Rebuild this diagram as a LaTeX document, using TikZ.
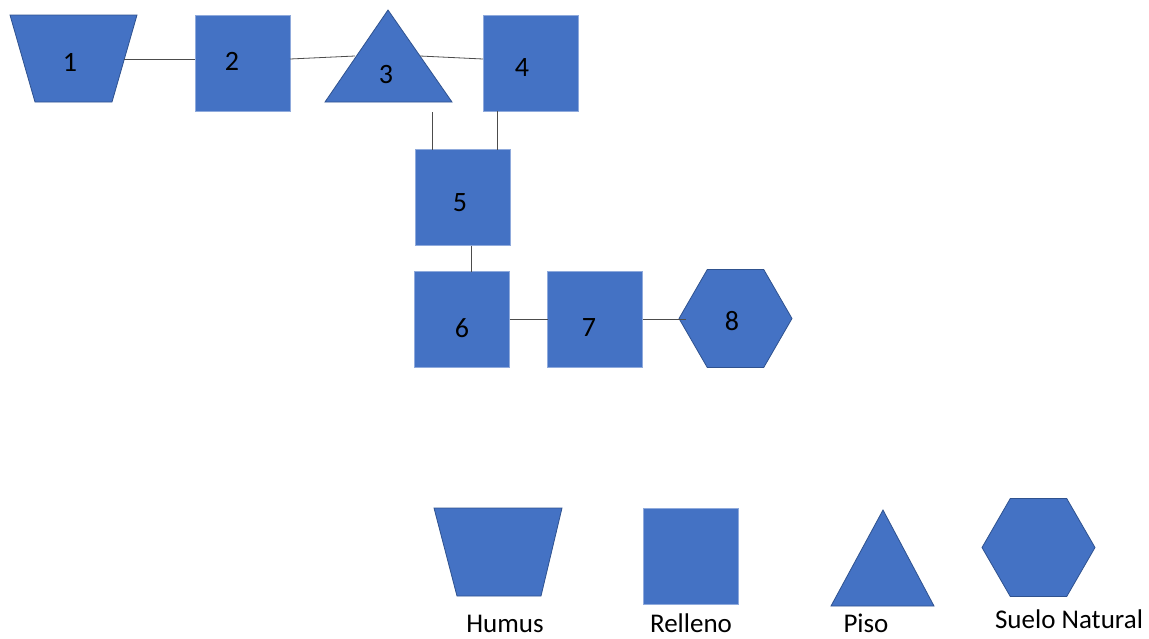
\documentclass[tikz,border=0pt]{standalone}
\usepackage{fontspec}
\setmainfont{Carlito}
\usetikzlibrary{shapes.geometric,positioning}
\definecolor{soilblue}{RGB}{68,114,196}
\definecolor{soiledge}{RGB}{47,82,143}
\definecolor{filledge}{RGB}{143,170,220}
\tikzset{
  layer/.style={fill=soilblue,draw=soiledge,line width=0.8pt},
  fillbox/.style={layer,draw=filledge,rectangle,inner sep=0pt,outer sep=0pt,
    minimum width=95pt,minimum height=96pt},
  suelobox/.style={layer,regular polygon,regular polygon sides=6,inner sep=0pt,
    outer sep=0pt,minimum size=113pt},
  num/.style={font=\fontsize{28}{33}\selectfont,inner sep=0pt},
  caption/.style={font=\fontsize{27}{32}\selectfont,inner sep=0pt},
  link/.style={draw=black!70,line width=0.8pt},
}
\begin{document}
\begin{tikzpicture}[x=1pt,y=-1pt]
\useasboundingbox (0,0) rectangle (1149,638);
% capas del perfil
\filldraw[layer] (10,15) -- (137,15) -- (112,102) -- (35,102) -- cycle;
\filldraw[layer] (388,10) -- (452,102) -- (325,102) -- cycle;
\node[fillbox] (b2) at (242.5,63) {};
\node[fillbox] (b4) at (530.5,63) {};
\node[fillbox] (b5) at (463,197.5) {};
\node[fillbox] (b6) at (462,319.5) {};
\node[fillbox] (b7) at (595,319.5) {};
\node[suelobox] (b8) at (735.5,318.5) {};
\node[num] (n1) at (70,62) {1};
\node[num] (n2) at (232,61) {2};
\node[num] (n3) at (386,75) {3};
\node[num] (n4) at (522,68) {4};
\node[num] (n5) at (460,203) {5};
\node[num] (n6) at (462,328) {6};
\node[num] (n7) at (589,328) {7};
\node[num] (n8) at (732,321) {8};
% uniones
\coordinate (e1) at (123.5,59);
\coordinate (w3) at (355,56);
\coordinate (e3) at (420,56);
\coordinate (s3) at (432,112);
\draw[link] (e1) -- (e1 -| b2.west);
\draw[link] ([yshift=4pt]b2.east) -- (w3);
\draw[link] (e3) -- ([yshift=4pt]b4.west);
\draw[link] (s3) -- (s3 |- b5.north);
\draw[link] ([xshift=-33.5pt]b4.south) -- ([xshift=-33.5pt]b4.south |- b5.north);
\draw[link] ([xshift=8pt]b5.south) -- ([xshift=8pt]b5.south |- b6.north);
\draw[link] (b6.east) -- (b7.west);
\draw[link] (b7.east) -- ([xshift=7pt]b7.east -| b8.west);
% leyenda
\filldraw[layer] (434,508) -- (562,508) -- (541,596) -- (457,596) -- cycle;
\node[fillbox] (l2) at (690.5,556.5) {};
\filldraw[layer] (883,510) -- (934,606) -- (831,606) -- cycle;
\node[suelobox] (l4) at (1038.5,547.5) {};
\node[caption] (t1) at (505,624) {Humus};
\node[caption] (t2) at (691,623) {Relleno};
\node[caption] (t3) at (866,623) {Piso};
\node[caption] (t4) at (1069,619) {Suelo Natural};
\end{tikzpicture}
\end{document}
